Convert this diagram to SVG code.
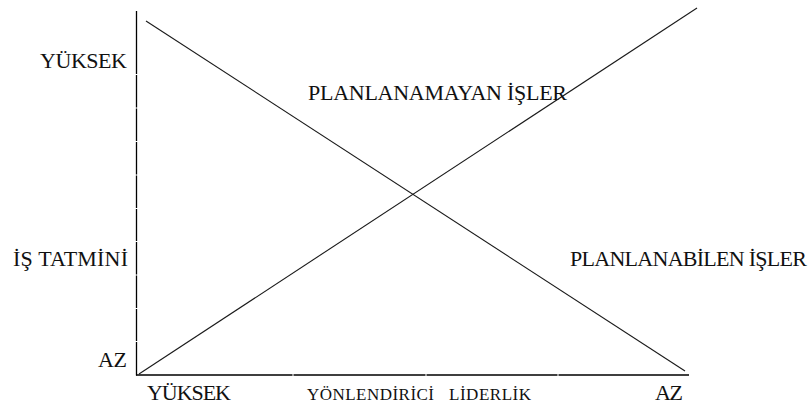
<svg xmlns="http://www.w3.org/2000/svg" width="811" height="405" viewBox="0 0 811 405">
  <style>
    .axis { stroke: #000; stroke-width: 1.3; fill: none; }
    .trend { stroke: #1a1a1a; stroke-width: 1.1; fill: none; }
    .lbl { font-family: "Liberation Serif", "Times New Roman", serif; font-size: 22px; fill: #111; }
    .small { font-family: "Liberation Serif", "Times New Roman", serif; font-size: 17px; fill: #111; }
  </style>
  <rect width="811" height="405" fill="#fff"/>

  <!-- axes, drawn as short segments with hairline breaks -->
  <g id="axes">
    <path class="axis" d="M136.5 11V74 M136.5 75V107.5 M136.5 108.5V141 M136.5 142V174.5 M136.5 175.5V208 M136.5 209V241 M136.5 242V274.5 M136.5 275.5V308 M136.5 309V341 M136.5 342V375.5"/>
    <path class="axis" d="M136 375H292.5 M293.5 375H425.5 M426.5 375H557.5 M558.5 375H689"/>
  </g>

  <!-- crossing trend lines -->
  <g id="connectors">
    <line class="trend" x1="146" y1="21" x2="685" y2="371"/>
    <line class="trend" x1="139" y1="374" x2="697" y2="8"/>
  </g>

  <!-- vertical axis labels -->
  <g id="y-labels" class="lbl">
    <text x="40" y="68" textLength="87">YÜKSEK</text>
    <text x="13" y="266" textLength="115">İŞ TATMİNİ</text>
    <text x="98" y="367" textLength="29">AZ</text>
  </g>

  <!-- horizontal axis labels -->
  <g id="x-labels">
    <text class="lbl" x="147" y="400" textLength="84">YÜKSEK</text>
    <text class="small" x="307" y="400" textLength="127">YÖNLENDİRİCİ</text>
    <text class="small" x="449" y="400" textLength="82">LİDERLİK</text>
    <text class="lbl" x="655" y="400" textLength="28">AZ</text>
  </g>

  <!-- line labels -->
  <g id="planlanamayan">
    <text class="lbl" x="308" y="100" textLength="259">PLANLANAMAYAN İŞLER</text>
  </g>
  <g id="planlanabilen">
    <text class="lbl" x="570" y="266" textLength="237">PLANLANABİLEN İŞLER</text>
  </g>
</svg>
